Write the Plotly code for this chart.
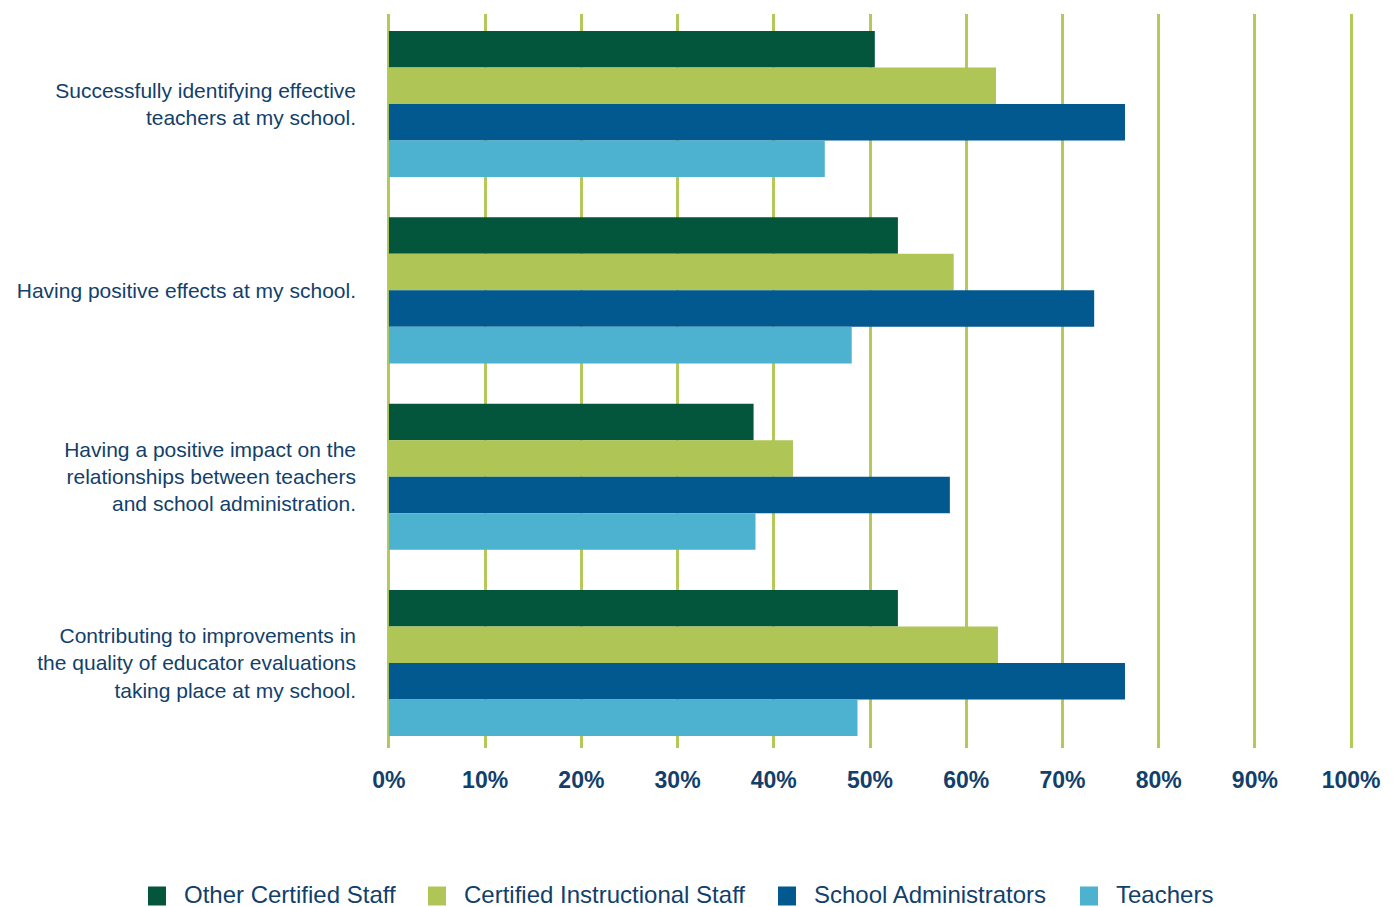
import plotly.graph_objects as go

# Survey statements (top to bottom)
categories = [
    "Successfully identifying effective<br>teachers at my school.",
    "Having positive effects at my school.",
    "Having a positive impact on the<br>relationships between teachers<br>and school administration.",
    "Contributing to improvements in<br>the quality of educator evaluations<br>taking place at my school.",
]

# Percent agreeing, by respondent group
other_certified = [50.5, 52.9, 37.9, 52.9]
certified_instructional = [63.1, 58.7, 42.0, 63.3]
school_administrators = [76.5, 73.3, 58.3, 76.5]
teachers = [45.3, 48.1, 38.1, 48.7]

series_names = [
    "Other Certified Staff",
    "Certified Instructional Staff",
    "School Administrators",
    "Teachers",
]
series_values = [other_certified, certified_instructional, school_administrators, teachers]
series_colors = ["#03553c", "#afc657", "#01598f", "#4db2cf"]

x_ticks = [0, 10, 20, 30, 40, 50, 60, 70, 80, 90, 100]
x_tick_labels = [f"{v}%" for v in x_ticks]

TEXT = "#123f6b"
GRID = "#b3ca5a"

fig = go.Figure()
for name, vals, col in zip(series_names, series_values, series_colors):
    fig.add_trace(go.Bar(
        y=categories, x=vals, name=name, orientation="h",
        marker=dict(color=col, line=dict(width=0)),
        showlegend=False, hoverinfo="x+name",
    ))

# Legend drawn as swatches + labels below the plot
W, H = 1398, 907
ML, MR, MT, MB = 387, 45, 14, 159
pw, ph = W - ML - MR, H - MT - MB
legend_text_x = [183, 463, 813, 1115]
legend_y = 894
sq_w, sq_h = 18, 19
for name, col, tx in zip(series_names, series_colors, legend_text_x):
    x1 = tx - 17
    x0 = x1 - sq_w
    fig.add_shape(
        type="rect", xref="paper", yref="paper",
        x0=(x0 - ML) / pw, x1=(x1 - ML) / pw,
        y0=(H - MB - (legend_y + 2 + sq_h / 2)) / ph, y1=(H - MB - (legend_y + 2 - sq_h / 2)) / ph,
        fillcolor=col, line=dict(width=0),
    )
    fig.add_annotation(
        xref="paper", yref="paper", x=(tx - ML) / pw, y=(H - MB - legend_y) / ph,
        xanchor="left", yanchor="middle", showarrow=False, text=name, borderpad=0,
        font=dict(family="Liberation Sans, Arial, sans-serif", size=24, color=TEXT),
    )

fig.update_layout(
    width=W, height=H,
    margin=dict(l=ML, r=MR, t=MT, b=MB, pad=0),
    paper_bgcolor="white", plot_bgcolor="white",
    barmode="group", bargap=0.216, bargroupgap=0,
    showlegend=False,
    font=dict(family="Liberation Sans, Arial, sans-serif", color=TEXT),
)
fig.update_xaxes(
    range=[-0.2, 100.2], tickmode="array", tickvals=x_ticks, ticktext=x_tick_labels,
    showgrid=True, gridcolor=GRID, gridwidth=2.5, zeroline=False, showline=False,
    ticks="", ticklabelstandoff=16,
    tickfont=dict(family="Liberation Sans, Arial, sans-serif", size=23, color=TEXT, weight="bold"),
)
fig.update_yaxes(
    range=[3.456, -0.483], showgrid=False, zeroline=False, showline=False,
    ticks="", ticklabelstandoff=30,
    tickfont=dict(family="Liberation Sans, Arial, sans-serif", size=21, color=TEXT),
)

fig.write_html("out.html")
